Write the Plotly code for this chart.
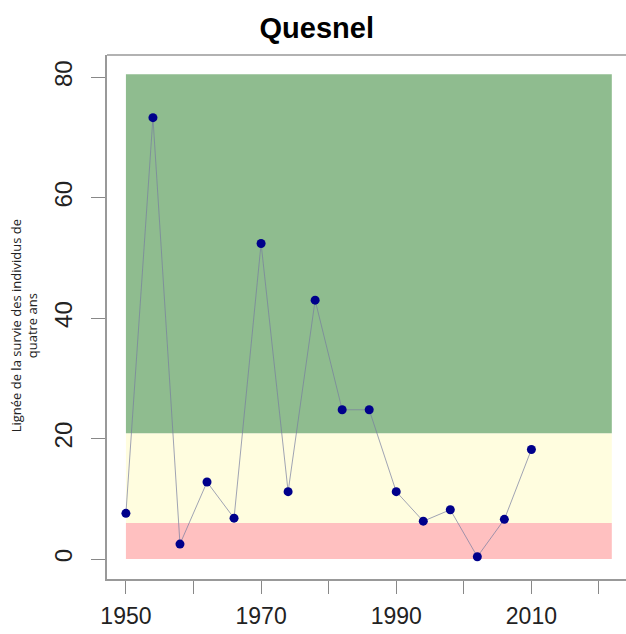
import plotly.graph_objects as go

years = [1950, 1954, 1958, 1962, 1966, 1970, 1974, 1978, 1982, 1986,
         1990, 1994, 1998, 2002, 2006, 2010]
values = [7.6, 73.3, 2.5, 12.8, 6.8, 52.4, 11.2, 43.0, 24.8, 24.8,
          11.2, 6.3, 8.2, 0.4, 6.6, 18.2]

band_x = [1950, 2021.9]
band_edges = [0, 6.0, 20.9, 80.5]
band_colors = ["#FFC0C0", "#FFFDDF", "#8FBC8F"]

x_tickvals = [1950, 1960, 1970, 1980, 1990, 2000, 2010, 2020]
x_ticktext = ["1950", "", "1970", "", "1990", "", "2010", ""]
y_tickvals = [0, 20, 40, 60, 80]

fig = go.Figure()

shapes = []
for i, col in enumerate(band_colors):
    shapes.append(dict(type="rect", xref="x", yref="y",
                       x0=band_x[0], x1=band_x[1],
                       y0=band_edges[i], y1=band_edges[i + 1],
                       fillcolor=col, line=dict(width=0), layer="below"))
# top edge of the plot frame (right edge falls outside the picture)
shapes.append(dict(type="line", xref="paper", yref="paper",
                   x0=0, x1=1.02, y0=1, y1=1,
                   line=dict(color="#999", width=1.5)))

fig.add_trace(go.Scatter(
    x=years, y=values, mode="lines+markers",
    line=dict(color="rgba(120,125,160,0.7)", width=1),
    marker=dict(color="#00008B", size=9),
    showlegend=False, hoverinfo="x+y"))

fig.update_layout(
    width=626, height=634,
    margin=dict(l=107, r=0, t=55, b=55, autoexpand=False),
    plot_bgcolor="white", paper_bgcolor="white",
    shapes=shapes,
    title=dict(text="<b>Quesnel</b>", x=0.506, xanchor="center",
               y=0.956, yanchor="middle",
               font=dict(family="Liberation Sans, Arial", size=29, color="black")),
    font=dict(family="Liberation Sans, Arial", color="#222"),
    xaxis=dict(range=[1947.2, 2024.0], tickmode="array",
               tickvals=x_tickvals, ticktext=x_ticktext,
               ticks="outside", ticklen=13, tickcolor="#888", tickwidth=1.2,
               showline=True, linecolor="#999", linewidth=1.5, mirror=False,
               showgrid=False, zeroline=False, automargin=False,
               tickfont=dict(size=23, color="#222"), ticklabelstandoff=3),
    yaxis=dict(range=[-3.3, 83.7], tickmode="array", tickvals=y_tickvals,
               ticks="outside", ticklen=14, tickcolor="#888", tickwidth=1.2,
               showline=True, linecolor="#999", linewidth=1.5, mirror=False,
               showgrid=False, zeroline=False, tickangle=-90, automargin=False,
               tickfont=dict(size=24, color="#222"), ticklabelstandoff=10),
    annotations=[dict(
        text="Lignée de la survie des individus de<br>quatre ans",
        xref="paper", yref="paper", x=-0.16, y=0.484,
        xanchor="center", yanchor="middle", textangle=-90, showarrow=False,
        font=dict(family="Open Sans", size=13, color="#222"))],
)

fig.write_html("out.html")
